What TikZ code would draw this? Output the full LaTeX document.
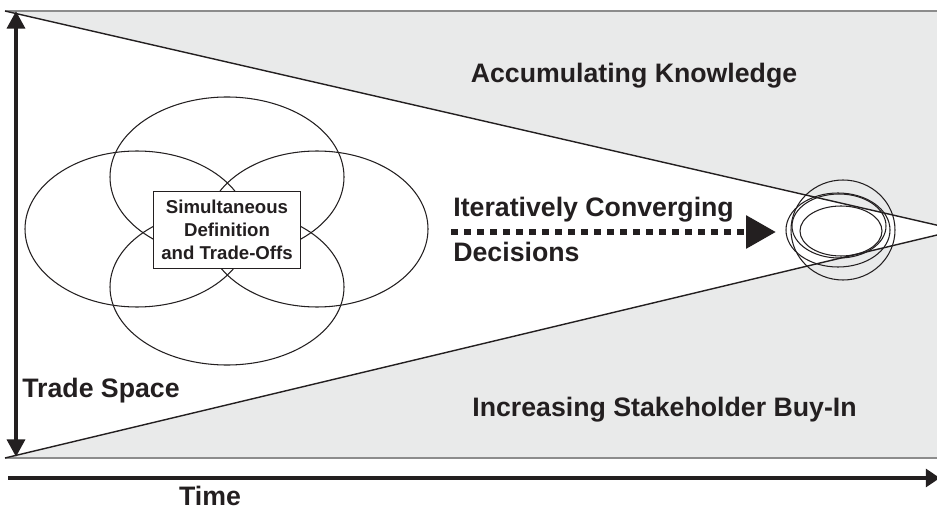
\documentclass[tikz,border=0pt]{standalone}
\usepackage{fontspec}
\setmainfont{Liberation Sans}
\usetikzlibrary{positioning, arrows.meta}
\definecolor{ink}{HTML}{231F20}
\definecolor{bandgray}{HTML}{E9EAEA}
\definecolor{rim}{HTML}{8C8C8C}

\begin{document}
\begin{tikzpicture}[x=0.02cm, y=-0.02cm,
    bigtext/.style={font=\fontsize{15.2}{18}\selectfont\bfseries, text=ink, inner sep=0pt},
    ring/.style={draw=ink, line width=0.6pt},
    axis/.style={draw=ink, line width=2.8pt}]
	\useasboundingbox (0,0) rectangle (937,510);
	\clip (0,0) rectangle (937,510);
	% shaded band and the trade space wedge
	\fill[bandgray] (5,11) rectangle (937,458);
	\draw[rim, line width=1pt] (5,11) -- (937,11) (5,458) -- (937,458);
	\coordinate (top) at (5,11);
	\coordinate (bot) at (5,458);
	\coordinate (apex) at (958,230);
	\fill[white] (top) -- (apex) -- (bot) -- cycle;
	\draw[ink, line width=0.8pt] (top) -- (apex) -- (bot);
	% axes
	\coordinate (up) at (16,11);
	\coordinate (down) at (16,457);
	\coordinate (t0) at (8,478);
	\coordinate (t1) at (940,478);
	\draw[axis, {Triangle[length=10pt,width=10pt]}-{Triangle[length=10pt,width=10pt]}] (up) -- (down);
	\draw[axis, -{Triangle[length=8pt,width=10pt]}] (t0) -- (t1);
	% overlapping definitions
	\draw[ring] (227,177) ellipse [x radius=117, y radius=80];
	\draw[ring] (227,287) ellipse [x radius=117, y radius=78];
	\draw[ring] (137,229) ellipse [x radius=112, y radius=78];
	\draw[ring] (317,229) ellipse [x radius=111, y radius=78];
	\node[draw=ink, fill=white, line width=0.6pt, align=center, text=ink,
	      font=\fontsize{10.6}{13}\selectfont\bfseries,
	      minimum width=84pt, minimum height=44pt] (defbox) at (227,230)
	      {Simultaneous\\Definition\\and Trade-Offs};
	% converged decisions
	\draw[ring] (843,230) ellipse [x radius=52, y radius=50];
	\draw[ring] (838,230) ellipse [x radius=52, y radius=37];
	\draw[ring] (839,226) ellipse [x radius=47, y radius=32];
	\draw[ring] (841,231) ellipse [x radius=41, y radius=25];
	% labels
	\node[bigtext, anchor=base] (know) at (634,83) {Accumulating Knowledge};
	\node[bigtext, anchor=base west] (buyin) at (472,416) {Increasing Stakeholder Buy-In};
	\node[bigtext, anchor=base west] (space) at (22,397) {Trade Space};
	\node[bigtext, anchor=base] (time) at (210,505) {Time};
	\node[bigtext, anchor=base west] (iter) at (453,216) {Iteratively Converging};
	\node[bigtext, anchor=base west] (dec) at (453,261) {Decisions};
	\coordinate (dfrom) at (451,232);
	\coordinate (dto) at (776,232);
	\draw[ink, line width=3.8pt, dash pattern=on 3.9pt off 3.5pt,
	      -{Triangle[length=17pt,width=18pt]}] (dfrom) -- (dto);
\end{tikzpicture}
\end{document}
